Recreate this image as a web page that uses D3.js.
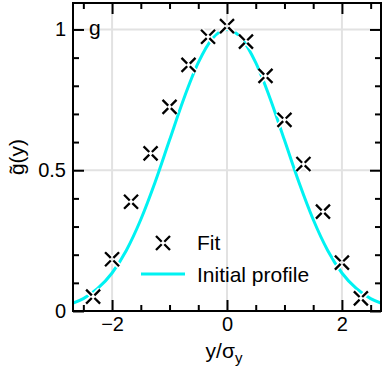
<!DOCTYPE html>
<html>
<head>
<meta charset="utf-8">
<script src="https://cdn.jsdelivr.net/npm/d3@7"></script>
<style>
  body { margin: 0; background: #fff; }
  text { font-family: "Liberation Sans", Arial, Helvetica, sans-serif; fill: #000; }
</style>
</head>
<body>
<div id="chart"></div>
<script>
// fitted points
const fitX = [-2.33, -2, -1.67, -1.33, -1, -0.67, -0.33, 0, 0.33, 0.67, 1, 1.33, 1.67, 2, 2.33];
const fitY = [0.051, 0.184, 0.388, 0.560, 0.725, 0.874, 0.974, 1.012, 0.957, 0.835, 0.679, 0.522, 0.353, 0.172, 0.045];

// initial profile curve
const profileX = [-2.75, -2.5, -2.25, -2, -1.75, -1.5, -1.25, -1, -0.75, -0.5, -0.25, 0, 0.25, 0.5, 0.75, 1, 1.25, 1.5, 1.75, 2, 2.25, 2.5, 2.75];
const profileY = [0.023, 0.044, 0.080, 0.135, 0.216, 0.325, 0.458, 0.607, 0.755, 0.882, 0.969, 1.0, 0.969, 0.882, 0.755, 0.607, 0.458, 0.325, 0.216, 0.135, 0.080, 0.044, 0.023];

const xTicks = [-2, 0, 2];
const xMinor = [-2.5, -1.5, -1, -0.5, 0.5, 1, 1.5, 2.5];
const yTicks = [0, 0.5, 1];
const yMinor = [0.1, 0.2, 0.3, 0.4, 0.6, 0.7, 0.8, 0.9];

const W = 383, H = 379;
const margin = { top: 3, right: 2, bottom: 68, left: 73 };
const width = W - margin.left - margin.right;
const height = H - margin.top - margin.bottom;

const svg = d3.select("#chart")
  .append("svg")
  .attr("width", W)
  .attr("height", H)
  .append("g")
  .attr("transform", `translate(${margin.left}, ${margin.top})`);

const xScale = d3.scaleLinear().domain([-2.68, 2.68]).range([0, width]);
const yScale = d3.scaleLinear().domain([0, 1.094]).range([height, 0]);

// grid
svg.append("g")
  .selectAll("line")
  .data(xTicks)
  .join("line")
  .attr("x1", d => xScale(d)).attr("x2", d => xScale(d))
  .attr("y1", 0).attr("y2", height)
  .attr("stroke", "#e2e2e2").attr("stroke-width", 2);

svg.append("g")
  .selectAll("line")
  .data(yTicks.filter(d => d > 0))
  .join("line")
  .attr("y1", d => yScale(d)).attr("y2", d => yScale(d))
  .attr("x1", 0).attr("x2", width)
  .attr("stroke", "#e2e2e2").attr("stroke-width", 2);

// curve
svg.append("clipPath").attr("id", "clip")
  .append("rect").attr("width", width).attr("height", height);

const line = d3.line()
  .x((d, i) => xScale(profileX[i]))
  .y(d => yScale(d))
  .curve(d3.curveMonotoneX);

svg.append("path")
  .datum(profileY)
  .attr("clip-path", "url(#clip)")
  .attr("fill", "none")
  .attr("stroke", "#00f2f2")
  .attr("stroke-width", 3)
  .attr("d", line);

// cross markers with a white halo
const cross = "M-7,-7L-1.3,-1.3M7,-7L1.3,-1.3M-7,7L-1.3,1.3M7,7L1.3,1.3";
const drawMarker = (g) => {
  g.append("path").attr("d", cross).attr("stroke", "#fff").attr("stroke-width", 5.5).attr("fill", "none");
  g.append("path").attr("d", cross).attr("stroke", "#000").attr("stroke-width", 2.3).attr("fill", "none");
};

svg.append("g")
  .selectAll("g")
  .data(fitY)
  .join("g")
  .attr("transform", (d, i) => `translate(${xScale(fitX[i])}, ${yScale(d)})`)
  .each(function () { drawMarker(d3.select(this)); });

// axes, ticks pointing inward on all sides
const fmt = d3.format("~g");
const styleAxis = (g) => {
  g.select(".domain").remove();
  g.selectAll(".tick line").attr("stroke", "#000").attr("stroke-width", 2);
  g.selectAll("text").attr("font-size", 20).attr("font-family", null);
};

svg.append("g").attr("transform", `translate(0, ${height})`)
  .call(d3.axisBottom(xScale).tickValues(xTicks).tickSize(-11).tickPadding(6).tickFormat(fmt))
  .call(styleAxis);
svg.append("g").attr("transform", `translate(0, ${height})`)
  .call(d3.axisBottom(xScale).tickValues(xMinor).tickSize(-6).tickFormat(""))
  .call(styleAxis);
svg.append("g")
  .call(d3.axisTop(xScale).tickValues(xTicks).tickSize(-11).tickFormat(""))
  .call(styleAxis);
svg.append("g")
  .call(d3.axisTop(xScale).tickValues(xMinor).tickSize(-6).tickFormat(""))
  .call(styleAxis);

svg.append("g")
  .call(d3.axisLeft(yScale).tickValues(yTicks).tickSize(-11).tickPadding(7).tickFormat(fmt))
  .call(styleAxis);
svg.append("g")
  .call(d3.axisLeft(yScale).tickValues(yMinor).tickSize(-6).tickFormat(""))
  .call(styleAxis);
svg.append("g").attr("transform", `translate(${width}, 0)`)
  .call(d3.axisRight(yScale).tickValues(yTicks).tickSize(-11).tickFormat(""))
  .call(styleAxis);
svg.append("g").attr("transform", `translate(${width}, 0)`)
  .call(d3.axisRight(yScale).tickValues(yMinor).tickSize(-6).tickFormat(""))
  .call(styleAxis);

svg.append("rect")
  .attr("width", width).attr("height", height)
  .attr("fill", "none").attr("stroke", "#000").attr("stroke-width", 2);

// panel letter
svg.append("text")
  .attr("x", 16).attr("y", 32)
  .attr("font-size", 21)
  .text("g");

// legend
const legend = svg.append("g").attr("font-size", 21);
legend.append("g")
  .attr("transform", `translate(${163 - margin.left}, ${243 - margin.top})`)
  .call(drawMarker);
legend.append("text").attr("x", 197 - margin.left).attr("y", 250 - margin.top).text("Fit");
legend.append("line")
  .attr("x1", 141 - margin.left).attr("x2", 185 - margin.left)
  .attr("y1", 274 - margin.top).attr("y2", 274 - margin.top)
  .attr("stroke", "#00f2f2").attr("stroke-width", 3);
legend.append("text").attr("x", 197 - margin.left).attr("y", 282 - margin.top).text("Initial profile");

// axis titles
const xLabel = svg.append("text")
  .attr("x", xScale(0) - 3).attr("y", 358 - margin.top)
  .attr("text-anchor", "middle")
  .attr("font-size", 21);
xLabel.append("tspan").text("y/σ");
xLabel.append("tspan").attr("dy", 5).attr("font-size", 15).text("y");

svg.append("text")
  .attr("transform", `translate(${24 - margin.left}, ${157 - margin.top}) rotate(-90)`)
  .attr("text-anchor", "middle")
  .attr("font-size", 21)
  .text("g\u0303(y)");
</script>
</body>
</html>
